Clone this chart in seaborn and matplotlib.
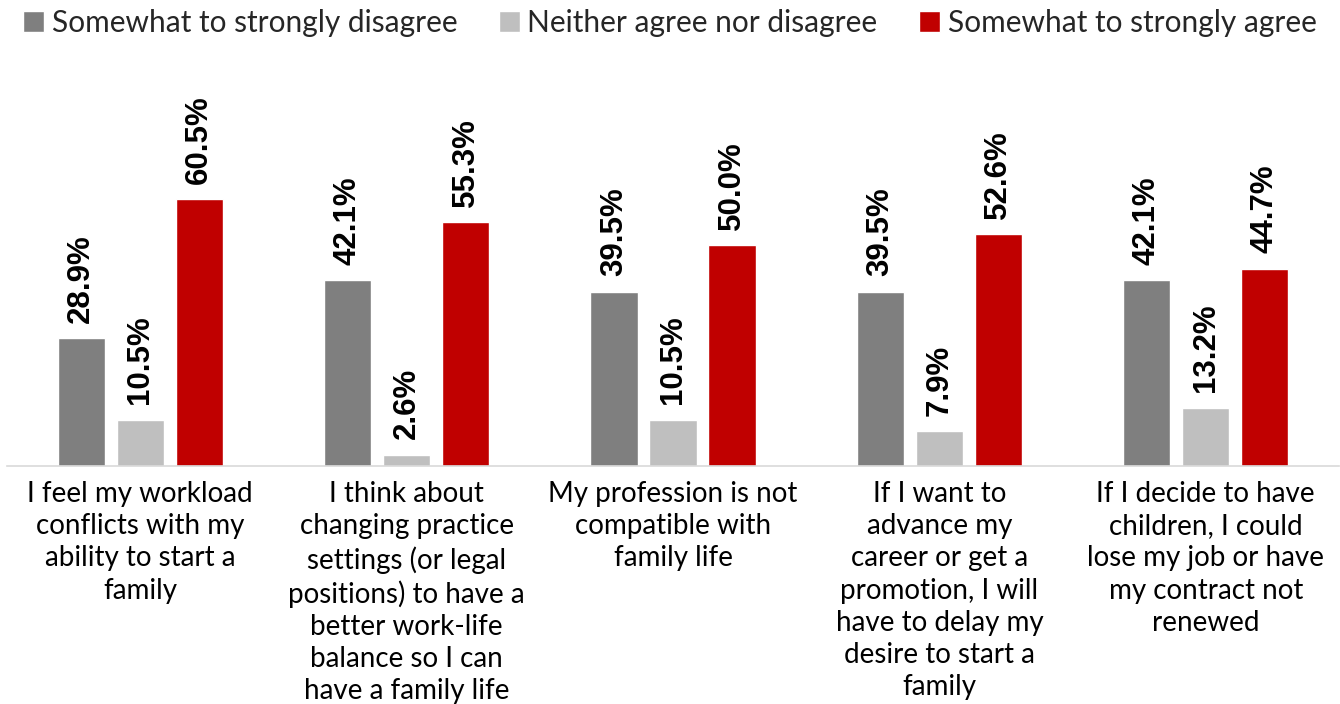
import matplotlib
matplotlib.use("Agg")
import matplotlib.pyplot as plt
import seaborn as sns
import pandas as pd
from matplotlib.patches import Patch

categories = [
    "I feel my workload\nconflicts with my\nability to start a\nfamily",
    "I think about\nchanging practice\nsettings (or legal\npositions) to have a\nbetter work-life\nbalance so I can\nhave a family life",
    "My profession is not\ncompatible with\nfamily life",
    "If I want to\nadvance my\ncareer or get a\npromotion, I will\nhave to delay my\ndesire to start a\nfamily",
    "If I decide to have\nchildren, I could\nlose my job or have\nmy contract not\nrenewed",
]
series_names = ["Somewhat to strongly disagree", "Neither agree nor disagree", "Somewhat to strongly agree"]
disagree = [28.9, 42.1, 39.5, 39.5, 42.1]
neither = [10.5, 2.6, 10.5, 7.9, 13.2]
agree = [60.5, 55.3, 50.0, 52.6, 44.7]
colors = ["#7f7f7f", "#bfbfbf", "#c00000"]

rows = []
for vals, name in zip([disagree, neither, agree], series_names):
    for c, v in zip(categories, vals):
        rows.append({"cat": c, "series": name, "value": v})
df = pd.DataFrame(rows)

sns.set_theme(style="white")
plt.rcParams['font.family'] = ['Lato', 'DejaVu Sans']

fig = plt.figure(figsize=(13.4, 7.04), dpi=100)
ax = fig.add_axes([7/1340, (704-466)/704, 1332/1340, (466-60)/704])

sns.barplot(data=df, x="cat", y="value", hue="series", hue_order=series_names,
            order=categories, palette=colors, width=0.665, gap=0.2,
            ax=ax, legend=False, saturation=1)

for cont in ax.containers:
    for bar in cont:
        h = bar.get_height()
        ax.annotate(f"{h:.1f}%", (bar.get_x() + bar.get_width()/2, h),
                    xytext=(0, 11), textcoords="offset points",
                    rotation=90, ha="center", va="bottom",
                    fontsize=22.5, fontweight="bold", family="Liberation Sans",
                    color="black")

ax.set_ylim(0, 92)
ax.set_xlim(-0.5, 4.5)
ax.set_xlabel("")
ax.set_ylabel("")
ax.set_yticks([])
ax.tick_params(axis="x", length=0, pad=11, labelsize=20, labelcolor="black")
for lab in ax.get_xticklabels():
    lab.set_linespacing(1.29)
for s in ["top", "right", "left"]:
    ax.spines[s].set_visible(False)
ax.spines["bottom"].set_color("#d9d9d9")
ax.spines["bottom"].set_linewidth(1.2)

handles = [Patch(facecolor=c, label=n) for c, n in zip(colors, series_names)]
fig.legend(handles=handles, loc="center", bbox_to_anchor=(0.5, 1 - 23/704),
           ncol=3, frameon=False, fontsize=21.5, handlelength=0.7, handleheight=0.7,
           handletextpad=0.25, columnspacing=1.4, borderaxespad=0)

fig.savefig("out.png", dpi=100)
